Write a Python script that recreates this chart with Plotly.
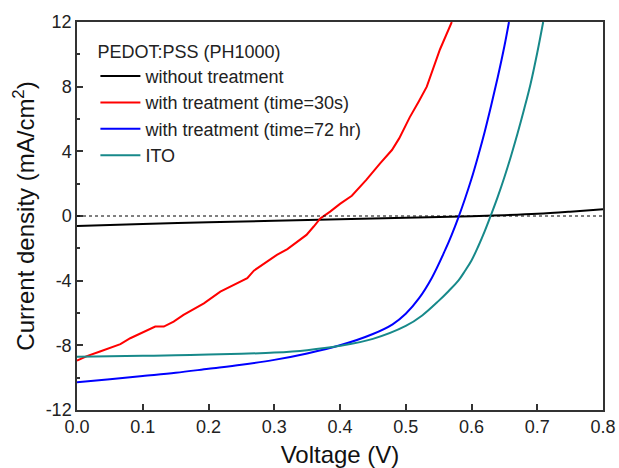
import plotly.graph_objects as go

# Data
v_black = [0.0, 0.1, 0.2, 0.3, 0.4, 0.5, 0.6, 0.65, 0.7, 0.75, 0.8]
j_black = [-0.62, -0.5, -0.39, -0.29, -0.2, -0.11, -0.02, 0.05, 0.14, 0.27, 0.42]

v_red = [0.000, 0.015, 0.035, 0.050, 0.066, 0.081, 0.100, 0.119, 0.132, 0.147, 0.162, 0.193,
         0.218, 0.243, 0.259, 0.269, 0.304, 0.320, 0.335, 0.349, 0.360, 0.370, 0.385, 0.400,
         0.418, 0.440, 0.461, 0.479, 0.490, 0.506, 0.520, 0.532, 0.552, 0.570]
j_red = [-8.95, -8.67, -8.38, -8.15, -7.93, -7.56, -7.2, -6.84, -6.84, -6.53, -6.12, -5.4,
         -4.68, -4.16, -3.85, -3.38, -2.41, -2.05, -1.6, -1.17, -0.65, -0.15, 0.27, 0.75,
         1.25, 2.23, 3.26, 4.08, 4.8, 6.1, 7.1, 8.0, 10.3, 12.0]

v_blue = [0.00, 0.05, 0.10, 0.15, 0.20, 0.25, 0.30, 0.35, 0.40, 0.45, 0.48, 0.50, 0.52, 0.54,
          0.56, 0.57, 0.58, 0.59, 0.60, 0.61, 0.62, 0.63, 0.64, 0.65, 0.657]
j_blue = [-10.28, -10.1, -9.9, -9.7, -9.45, -9.2, -8.9, -8.5, -8.0, -7.3, -6.7, -6.05, -5.1, -3.8,
          -2.1, -1.15, -0.1, 1.05, 2.3, 3.7, 5.2, 6.85, 8.6, 10.5, 12.0]

v_ito = [0.00, 0.05, 0.10, 0.15, 0.20, 0.25, 0.30, 0.35, 0.40, 0.45, 0.50, 0.525, 0.55, 0.565,
         0.58, 0.59, 0.60, 0.61, 0.62, 0.63, 0.64, 0.65, 0.66, 0.67, 0.68, 0.69, 0.70, 0.709]
j_ito = [-8.7, -8.68, -8.65, -8.62, -8.57, -8.52, -8.45, -8.3, -8.03, -7.6, -6.8, -6.15, -5.25, -4.65,
         -4.0, -3.4, -2.75, -1.9, -0.95, 0.1, 1.2, 2.4, 3.7, 5.1, 6.6, 8.2, 10.1, 12.0]

names = ["without treatment", "with treatment (time=30s)",
         "with treatment (time=72 hr)", "ITO"]
colors = ["#000000", "#ff0000", "#0000ff", "#17898a"]

x_ticks = [0.0, 0.1, 0.2, 0.3, 0.4, 0.5, 0.6, 0.7, 0.8]
x_labels = ["0.0", "0.1", "0.2", "0.3", "0.4", "0.5", "0.6", "0.7", "0.8"]
y_ticks = [-12, -8, -4, 0, 4, 8, 12]
y_labels = ["-12", "-8", "-4", "0", "4", "8", "12"]
y_minor = [-10, -6, -2, 2, 6, 10]

FONT = "Liberation Sans, Arial, sans-serif"

fig = go.Figure()
series = [(v_black, j_black, "spline"), (v_red, j_red, "linear"),
          (v_blue, j_blue, "spline"), (v_ito, j_ito, "spline")]
for (vx, jy, shp), nm, c in zip(series, names, colors):
    fig.add_trace(go.Scatter(x=vx, y=jy, mode="lines", name=nm,
                             line=dict(color=c, width=2, shape=shp)))

fig.add_hline(y=0, line=dict(color="#000000", width=1, dash="dot"))

axis_common = dict(showgrid=False, zeroline=False, showline=True, mirror=True,
                   linecolor="#333333", linewidth=1.5, ticks="inside", ticklen=6,
                   tickwidth=1.5, tickcolor="#333333", automargin=False,
                   tickfont=dict(family=FONT, size=18, color="#222222"))

fig.update_xaxes(range=[0, 0.8], tickvals=x_ticks, ticktext=x_labels,
                 title=dict(text="Voltage (V)", font=dict(family=FONT, size=24, color="#111111"),
                            standoff=12),
                 **axis_common)
fig.update_yaxes(range=[-12, 12], tickvals=y_ticks, ticktext=y_labels,
                 minor=dict(tickvals=y_minor, ticks="inside", ticklen=3,
                            tickwidth=1.5, tickcolor="#333333"),
                 title=dict(text="Current density (mA/cm<sup>2</sup>)",
                            font=dict(family=FONT, size=24, color="#111111"), standoff=4),
                 **axis_common)

fig.update_layout(
    width=619, height=468,
    margin=dict(l=77, r=16, t=22, b=58),
    plot_bgcolor="white", paper_bgcolor="white",
    legend=dict(x=0.035, y=0.968, xanchor="left", yanchor="top",
                bgcolor="rgba(0,0,0,0)", tracegroupgap=0, itemwidth=40,
                font=dict(family=FONT, size=18, color="#222222"),
                title=dict(text="PEDOT:PSS (PH1000)",
                           font=dict(family=FONT, size=18, color="#222222"))),
)

fig.write_html("out.html", config={"displayModeBar": False},
               post_script="document.body.style.margin='0';")
